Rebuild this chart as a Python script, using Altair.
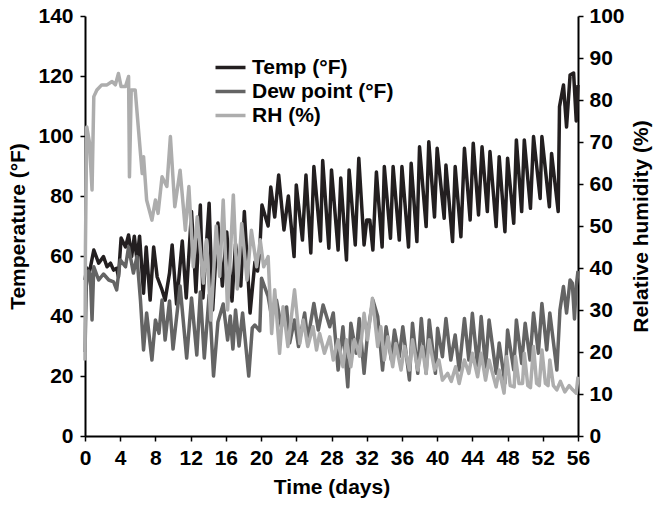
import altair as alt
import pandas as pd

# ---------------- data ----------------
temp_day = [0.0, 0.2, 0.4, 1.0, 1.55, 2.1, 2.5, 2.9, 3.25, 3.6, 3.8, 4.1, 4.6, 4.95, 5.3, 5.6, 5.9, 6.2,
            6.65, 6.95, 7.4, 7.8, 8.2, 8.75, 9.1, 9.6, 9.9, 10.4, 11.05, 11.5, 12.1, 12.6, 13.1, 13.4,
            14.1, 14.5, 15.1, 15.6, 16.1, 16.7, 17.1, 17.7, 18.1, 18.75, 19.3, 19.6, 19.85, 20.1, 20.8,
            21.1, 21.55, 22.0, 22.6, 23.1, 23.75, 24.0, 24.7, 25.1, 25.65, 26.0, 26.75, 27.0, 27.7, 28.0,
            28.75, 29.05, 29.7, 30.0, 30.7, 31.1, 31.7, 32.0, 32.35, 32.7, 33.1, 33.75, 34.0, 34.7, 35.0,
            35.7, 36.0, 36.75, 37.05, 37.7, 38.0, 38.75, 39.05, 39.7, 40.0, 40.8, 41.0, 41.75, 42.05,
            42.7, 43.1, 43.75, 44.1, 44.7, 45.1, 45.7, 46.0, 46.7, 47.05, 47.7, 48.0, 48.7, 49.0, 49.6,
            49.9, 50.6, 50.95, 51.7, 51.9, 52.75, 53.0, 53.75, 53.9, 54.35, 54.7, 55.1, 55.5, 55.8, 56.0]
temp_val = [52, 56, 53, 62, 57.6, 59.8, 56.4, 57.6, 55.3, 55.9, 53, 66, 63, 67, 59.8, 66.6, 58.7, 66.6,
            47.6, 63, 45.3, 63, 53, 48.7, 45.3, 54.3, 63.7, 44, 65, 46, 74.8, 48, 77, 46,
            77.6, 42, 71, 50, 68, 45, 64, 50, 74.8, 41, 58, 55, 62, 77, 70,
            83, 73, 87, 68.7, 80, 59.8, 83.7, 65.3, 87, 61, 89.8, 65, 91.8, 62.6, 88.7,
            62, 86, 58.7, 88.7, 63.7, 92.6, 63.7, 72, 72, 62, 88, 63, 89.8, 65.9, 89.8,
            65.3, 89.8, 63, 90.9, 64.8, 96.4, 69.8, 98.1, 73, 95.9, 72.6, 90.3, 64.8, 89.8,
            66.4, 95.9, 72, 97.6, 73.7, 96.4, 74.8, 94.8, 69.8, 93.1, 68.1, 92.6, 70.9, 98.7, 74.8,
            98.7, 75.9, 99.8, 79.2, 99.8, 76.4, 94.2, 74.8, 109.8, 117, 103, 120.3, 121, 105, 117]

dew_day = [0.0, 0.15, 0.4, 0.6, 0.8, 1.0, 1.55, 2.1, 2.7, 3.25, 3.6, 4.0, 4.6, 4.95, 5.5, 5.9, 6.3,
           6.65, 7.0, 7.6, 8.0, 8.4, 8.75, 9.1, 9.6, 10.0, 10.8, 11.55, 12.1, 12.7, 13.1, 13.55, 14.1,
           14.6, 15.1, 15.7, 16.2, 16.5, 16.8, 17.1, 17.5, 17.9, 18.6, 19.0, 19.3, 19.85, 20.05, 20.8,
           21.2, 21.75, 22.3, 22.9, 23.25, 23.8, 24.25, 24.95, 25.3, 26.0, 26.5, 27.05, 27.8, 28.2,
           28.75, 29.3, 29.85, 30.2, 30.8, 31.15, 31.7, 32.1, 32.7, 33.25, 33.8, 34.2, 34.8, 35.15,
           35.7, 36.1, 36.85, 37.2, 37.8, 38.2, 38.75, 39.1, 39.8, 40.05, 40.6, 41.0, 41.55, 42.05,
           42.5, 43.1, 43.6, 44.0, 44.6, 45.0, 45.5, 45.9, 46.7, 47.05, 47.7, 48.0, 48.7, 49.0, 49.6,
           50.0, 50.55, 50.95, 51.5, 51.9, 52.45, 52.8, 53.6, 53.95, 54.35, 54.7, 55.1, 55.35, 55.6,
           55.8, 56.0]
dew_val = [28, 50, 55, 54, 38.7, 56.4, 52, 54, 52, 51.4, 48.7, 58.7, 56.4, 63, 54.3, 59.8, 45.3,
           28.7, 41, 25.3, 38.7, 34.2, 45.3, 32, 45, 29, 50, 26, 46, 27, 48, 26, 47,
           20, 38, 44, 32, 40, 29, 42, 30, 41, 20, 36, 37, 35, 52.6, 46.5,
           39.8, 45.3, 36.4, 43, 31, 38.7, 29.8, 41, 32, 44.2, 35.3, 43.7, 36.4, 41,
           22, 36.4, 16.4, 37.6, 27.6, 39.2, 20.9, 34.2, 45.3, 39.8, 22, 36.4, 25.3, 35.3,
           26.4, 36.4, 18.7, 37.6, 20.9, 39.2, 20.9, 38.7, 20.9, 35.9, 26.4, 39.2, 25.3, 33.7,
           22, 39.2, 25.3, 40.9, 23, 39.8, 23, 38.7, 20.9, 31, 17.6, 35.3, 22, 38.7, 24.2,
           37.6, 25.3, 41, 27.6, 44.2, 28.7, 41, 22, 42, 49.8, 41, 52, 51, 39,
           50, 55]

rh_day = [0.0, 0.05, 0.2, 0.5, 0.8, 1.0, 1.35, 1.9, 2.5, 3.07, 3.45, 3.8, 4.1, 4.6, 4.95, 5.05, 5.25,
          5.7, 6.3, 6.5, 6.65, 7.0, 7.6, 8.0, 8.3, 8.75, 9.3, 9.7, 10.2, 10.8, 11.4, 11.8, 12.3, 12.75,
          13.45, 13.8, 14.3, 14.9, 15.3, 15.7, 16.2, 16.85, 17.3, 17.8, 18.4, 18.9, 19.5, 19.9, 20.3,
          20.8, 21.2, 21.55, 22.1, 22.5, 23.05, 23.8, 24.4, 24.8, 25.3, 25.9, 26.3, 26.65, 27.2, 27.8,
          28.2, 28.75, 29.3, 29.7, 30.2, 30.6, 31.2, 31.7, 32.1, 32.65, 33.25, 33.6, 34.0, 34.4, 34.95,
          35.3, 35.9, 36.3, 36.85, 37.2, 37.8, 38.3, 38.75, 39.1, 39.7, 40.2, 40.6, 41.2, 41.6, 42.1,
          42.5, 43.1, 43.6, 44.0, 44.6, 45.0, 45.5, 45.9, 46.7, 47.05, 47.6, 47.9, 48.3, 48.75, 48.9,
          49.3, 49.7, 49.9, 50.3, 50.6, 50.95, 51.3, 51.6, 51.9, 52.3, 52.6, 52.8, 53.2, 53.6, 54.0,
          54.5, 55.0, 55.4, 55.8, 56.0]
rh_val = [18, 45, 73.6, 70, 58.6, 80.8, 82.4, 83.6, 83.6, 84.4, 83.6, 86.3, 83.2, 83.2, 85.6, 61.7, 82.4,
          82.4, 67.3, 62.5, 66.5, 56.2, 51.4, 56.2, 53, 61.7, 59.4, 71.3, 54.6, 63.3, 49, 59.4, 40.3, 52.2,
          36.4, 46.7, 27.6, 50, 38, 56.2, 30, 57.4, 35, 50.6, 37.1, 49, 40.3, 46.7, 40.3,
          42.7, 24.4, 34.8, 19.7, 30.8, 21.3, 34.8, 22, 27.6, 21.3, 26, 20.5, 24.4, 19.7, 23.6,
          18.1, 22.9, 16.5, 22.9, 16.5, 22.9, 19, 29.2, 22.9, 32.8, 21.3, 26, 18.1, 23.6, 16.5,
          22, 15.7, 21.3, 15.7, 22.9, 15.7, 21.3, 14.9, 22.9, 15.7, 18.1, 13.3, 14.9, 13, 16.5,
          12.5, 18.1, 14.9, 19.7, 14.1, 19.7, 13.3, 18.1, 11.7, 15.7, 10.2, 18.9, 12, 11.7, 18.9,
          12.5, 12.5, 19.7, 12, 11.5, 21.3, 12.5, 12, 20.5, 12.5, 12, 18.1, 12, 11, 13,
          10.5, 12, 11, 10.2, 14.1]

series_names = ["Temp (°F)", "Dew point (°F)", "RH (%)"]
series_colors = ["#231f20", "#646464", "#adadad"]

# ---------------- build tables ----------------
df_left = pd.concat([
    pd.DataFrame({"day": temp_day, "value": temp_val, "series": series_names[0]}),
    pd.DataFrame({"day": dew_day, "value": dew_val, "series": series_names[1]}),
], ignore_index=True)
df_rh = pd.DataFrame({"day": rh_day, "value": rh_val, "series": series_names[2]})

FONT = "Liberation Sans"
LW = 3.5

color = alt.Color(
    "series:N",
    scale=alt.Scale(domain=series_names, range=series_colors),
    sort=series_names,
    legend=alt.Legend(
        title=None, orient="none", legendX=135, legendY=41, padding=0,
        symbolType="M-3,0H3", symbolStrokeWidth=LW, symbolSize=100,
        labelFont=FONT, labelFontSize=21, labelFontWeight="bold", labelColor="black",
        rowPadding=2, labelOffset=11,
    ),
)

x_enc = alt.X(
    "day:Q",
    scale=alt.Scale(domain=[0, 56], nice=False, zero=False),
    axis=alt.Axis(values=list(range(0, 57, 4)), title="Time (days)", grid=False,
                  labelFlush=False, labelOverlap=False, labelPadding=6, titlePadding=8),
)

left = alt.Chart(df_left).mark_line(strokeWidth=LW, strokeJoin="round").encode(
    x=x_enc,
    y=alt.Y("value:Q", scale=alt.Scale(domain=[0, 140], nice=False),
            axis=alt.Axis(orient="left", values=list(range(0, 141, 20)),
                          title="Temperature (°F)", grid=False, titlePadding=9,
                          titleFontSize=21, labelPadding=7)),
    color=color,
    detail="series:N",
)

right = alt.Chart(df_rh).mark_line(strokeWidth=LW, strokeJoin="round").encode(
    x=x_enc,
    y=alt.Y("value:Q", scale=alt.Scale(domain=[0, 100], nice=False),
            axis=alt.Axis(orient="right", values=list(range(0, 101, 10)),
                          title="Relative humidity (%)", grid=False, titleFontSize=21,
                          titleAngle=270, titleBaseline="top", titlePadding=6, labelPadding=6)),
    color=color,
)

chart = alt.layer(left, right).resolve_scale(y="independent").properties(
    width=493, height=420,
    autosize=alt.AutoSizeParams(type="none"),
    padding={"left": 85, "top": 16, "right": 78, "bottom": 70},
    background="white",
).configure_view(stroke=None).configure_axis(
    domainColor="black", domainWidth=2, tickColor="black", tickWidth=1.5, tickSize=5,
    labelFont=FONT, labelFontSize=21, labelFontWeight="bold", labelColor="black",
    titleFont=FONT, titleFontSize=21, titleFontWeight="bold", titleColor="black",
)

chart.save("out.html", embed_options={"renderer": "svg", "actions": False})
